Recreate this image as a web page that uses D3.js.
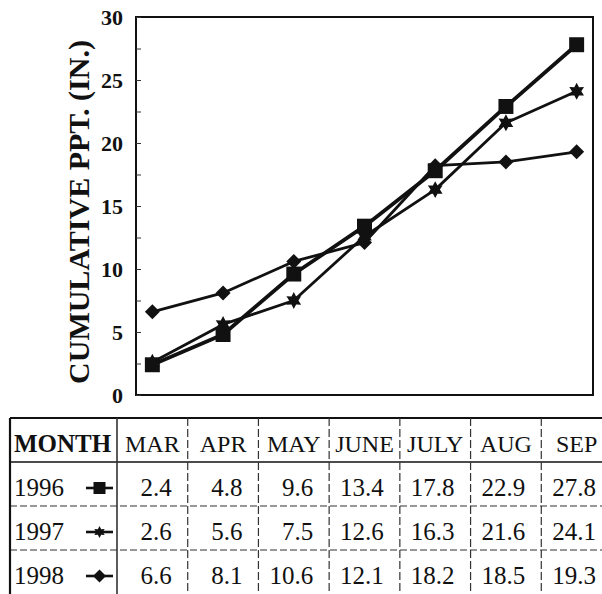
<!doctype html>
<html>
<head>
<meta charset="utf-8">
<script src="https://cdnjs.cloudflare.com/ajax/libs/d3/7.8.5/d3.min.js"></script>
<style>
  body { margin: 0; background: white; }
  svg { display: block; }
  text { font-family: "Liberation Serif", "Times New Roman", serif; fill: #111; }
</style>
</head>
<body>
<div id="chart"></div>
<script>
const width = 602;
const height = 594;

const months = ["MAR", "APR", "MAY", "JUNE", "JULY", "AUG", "SEP"];
const years = ["1996", "1997", "1998"];
const ppt1996 = [2.4, 4.8, 9.6, 13.4, 17.8, 22.9, 27.8];
const ppt1997 = [2.6, 5.6, 7.5, 12.6, 16.3, 21.6, 24.1];
const ppt1998 = [6.6, 8.1, 10.6, 12.1, 18.2, 18.5, 19.3];
const yLabels = [0, 5, 10, 15, 20, 25, 30];
const yMinor = [0, 2.5, 5, 7.5, 10, 12.5, 15, 17.5, 20, 22.5, 25, 27.5, 30];

// marker shapes (size = radius squared)
var star6 = {
  draw: function(ctx, size) {
    var R = Math.sqrt(size), r = R * 0.55;
    for (var i = 0; i < 12; i++) {
      var a = Math.PI / 6 * i - Math.PI / 2;
      var rr = i % 2 === 0 ? R : r;
      if (i === 0) ctx.moveTo(rr * Math.cos(a), rr * Math.sin(a));
      else ctx.lineTo(rr * Math.cos(a), rr * Math.sin(a));
    }
    ctx.closePath();
  }
};
var diamond = {
  draw: function(ctx, size) {
    var R = Math.sqrt(size);
    ctx.moveTo(0, -R); ctx.lineTo(R, 0); ctx.lineTo(0, R); ctx.lineTo(-R, 0);
    ctx.closePath();
  }
};
var square = {
  draw: function(ctx, size) {
    var R = Math.sqrt(size);
    ctx.rect(-R, -R, 2 * R, 2 * R);
  }
};

var series = [
  {name: "1996", values: ppt1996, shape: square, size: 56, legSize: 36, sw: 3.8},
  {name: "1997", values: ppt1997, shape: star6, size: 72, legSize: 36, sw: 2.8},
  {name: "1998", values: ppt1998, shape: diamond, size: 56, legSize: 42, sw: 2.8}
];

var svg = d3.select("#chart").append("svg")
  .attr("width", width)
  .attr("height", height);

// columns shared by the plot and the table
var xBand = d3.scaleBand().domain(months).range([117, 612]).padding(0);
var xc = function(m) { return xBand(m) + xBand.bandwidth() / 2; };

var y = d3.scaleLinear().domain([0, 30]).range([395, 17]);
var frameL = 136, frameR = 593;

// frame
svg.append("rect")
  .attr("x", frameL).attr("y", y(30))
  .attr("width", frameR - frameL).attr("height", y(0) - y(30))
  .attr("fill", "none").attr("stroke", "#111").attr("stroke-width", 2);

// ticks inside the frame every 2.5
var yTickAxis = d3.axisLeft(y).tickValues(yMinor).tickSize(-5).tickFormat("");
var gt = svg.append("g").attr("transform", "translate(" + frameL + ",0)").call(yTickAxis);
gt.select(".domain").remove();
gt.selectAll("line").attr("stroke", "#333").attr("stroke-width", 1);

// labels
var yAxis = d3.axisLeft(y).tickValues(yLabels).tickSize(0).tickPadding(13);
var gy = svg.append("g").attr("transform", "translate(" + frameL + ",0)").call(yAxis);
gy.select(".domain").remove();
gy.selectAll("text")
  .style("font-family", "'Liberation Serif', serif")
  .style("font-weight", "bold")
  .style("font-size", "22px")
  .attr("fill", "#111");

svg.append("text")
  .attr("transform", "translate(89,212) rotate(-90)")
  .attr("text-anchor", "middle")
  .style("font-size", "30px")
  .style("font-weight", "bold")
  .text("CUMULATIVE PPT. (IN.)");

// lines + markers
var line = d3.line()
  .x(function(d, i) { return xc(months[i]); })
  .y(function(d) { return y(d); });

var sg = svg.selectAll(".series").data(series).enter().append("g").attr("class", "series");
sg.append("path")
  .attr("d", function(s) { return line(s.values); })
  .attr("fill", "none").attr("stroke", "#111")
  .attr("stroke-width", function(s) { return s.sw; })
  .attr("stroke-linejoin", "round");
sg.each(function(s) {
  d3.select(this).selectAll("path.mk").data(s.values).enter().append("path")
    .attr("class", "mk")
    .attr("transform", function(d, i) { return "translate(" + xc(months[i]) + "," + y(d) + ")"; })
    .attr("d", d3.symbol().type(s.shape).size(s.size))
    .attr("fill", "#111");
});

// table
var rows = ["MONTH"].concat(years);
var yRow = d3.scaleBand().domain(rows).range([418, 594]);
var tableL = 10;

var table = svg.append("g").attr("class", "table");

// horizontal rules
table.append("line").attr("x1", tableL).attr("x2", width)
  .attr("y1", yRow("MONTH")).attr("y2", yRow("MONTH"))
  .attr("stroke", "#111").attr("stroke-width", 2.2);
table.append("line").attr("x1", tableL).attr("x2", width)
  .attr("y1", yRow("1996")).attr("y2", yRow("1996"))
  .attr("stroke", "#111").attr("stroke-width", 1.6);
table.selectAll("line.hr").data(["1997", "1998"]).enter().append("line")
  .attr("class", "hr")
  .attr("x1", tableL).attr("x2", width)
  .attr("y1", function(d) { return yRow(d); }).attr("y2", function(d) { return yRow(d); })
  .attr("stroke", "#333").attr("stroke-width", 1.2).attr("stroke-dasharray", "7,3");

// vertical rules
table.append("line").attr("x1", tableL).attr("x2", tableL)
  .attr("y1", yRow("MONTH")).attr("y2", height)
  .attr("stroke", "#111").attr("stroke-width", 2.2);
table.selectAll("line.vr").data(months).enter().append("line")
  .attr("class", "vr")
  .attr("x1", function(m) { return xBand(m); }).attr("x2", function(m) { return xBand(m); })
  .attr("y1", yRow("MONTH")).attr("y2", height)
  .attr("stroke", "#333").attr("stroke-width", function(m, i) { return i === 0 ? 1.6 : 1.2; })
  .attr("stroke-dasharray", function(m, i) { return i === 0 ? null : "8,3"; });

// header
table.append("text")
  .attr("x", 14).attr("y", yRow("MONTH") + 34)
  .style("font-size", "25px").style("font-weight", "bold")
  .text("MONTH");
table.selectAll("text.mh").data(months).enter().append("text")
  .attr("class", "mh")
  .attr("x", function(m) { return xc(m); })
  .attr("y", yRow("MONTH") + 34)
  .attr("text-anchor", "middle")
  .style("font-size", "24px")
  .text(function(m) { return m; });

// body rows
series.forEach(function(s) {
  var ty = yRow(s.name) + 34;
  table.append("text").attr("x", 14).attr("y", ty)
    .style("font-size", "25px").text(s.name);
  var ly = ty - 8;
  table.append("line").attr("x1", 86).attr("x2", 113)
    .attr("y1", ly).attr("y2", ly)
    .attr("stroke", "#111").attr("stroke-width", 2.6);
  table.append("path")
    .attr("transform", "translate(99.5," + ly + ")")
    .attr("d", d3.symbol().type(s.shape).size(s.legSize))
    .attr("fill", "#111");
  table.selectAll("text.v" + s.name).data(s.values).enter().append("text")
    .attr("class", "v" + s.name)
    .attr("x", function(d, i) { return xBand(months[i]) + xBand.bandwidth() - 16; })
    .attr("y", ty)
    .attr("text-anchor", "end")
    .style("font-size", "25px")
    .text(function(d) { return d3.format(".1f")(d); });
});
</script>
</body>
</html>
